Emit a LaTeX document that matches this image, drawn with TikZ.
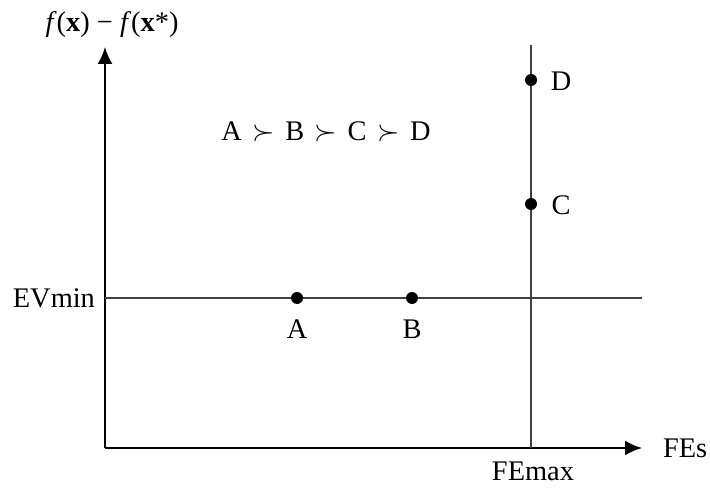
\documentclass[tikz,border=0pt]{standalone}
\usepackage{fontspec}
\setmainfont{Liberation Serif}
\usetikzlibrary{arrows.meta}
\newcommand{\pref}{\hspace{0.37em}$\succ$\hspace{0.37em}}
\begin{document}
\begin{tikzpicture}[x=0.5pt, y=-0.5pt, font=\fontsize{14.2}{16}\selectfont,
		axis/.style={line width=1pt, -{Latex[length=8.5pt, width=7.5pt]}},
		guide/.style={line width=0.65pt, black!75},
		pt/.style={circle, fill, inner sep=0pt, minimum size=6pt}]
			\useasboundingbox (0,0) rectangle (710,491);
			% axes
			\coordinate (O) at (105,448);
			\coordinate (ytop) at (105,47);
			\coordinate (xend) at (642,448);
			\draw[axis] (O) -- (ytop);
			\draw[axis] (O) -- (xend);
			\node (ylab) at (112,25) {\textit{f}(\textbf{x}) − \textit{f}(\textbf{x}*)};
			\node[right] (xlab) at (656,448) {FEs};
			% EVmin and FEmax lines
			\coordinate (ev0) at (105,298);
			\coordinate (ev1) at (642,298);
			\coordinate (fe0) at (531,448);
			\coordinate (fe1) at (531,45);
			\draw[guide] (ev0) -- (ev1);
			\draw[guide] (fe0) -- (fe1);
			\node[left] (evmin) at (102,298) {EVmin};
			\node (femax) at (533,471) {FEmax};
			% points
			\node[pt] (A) at (297,298) {};
			\node[pt] (B) at (412,298) {};
			\node[pt] (C) at (531,204) {};
			\node[pt] (D) at (531,80) {};
			\node (Alab) at (297,329) {A};
			\node (Blab) at (412,329) {B};
			\node (Clab) at (561,205) {C};
			\node (Dlab) at (561,81) {D};
			\node (order) at (326,132) {A\pref B\pref C\pref D};
		\end{tikzpicture}
\end{document}
